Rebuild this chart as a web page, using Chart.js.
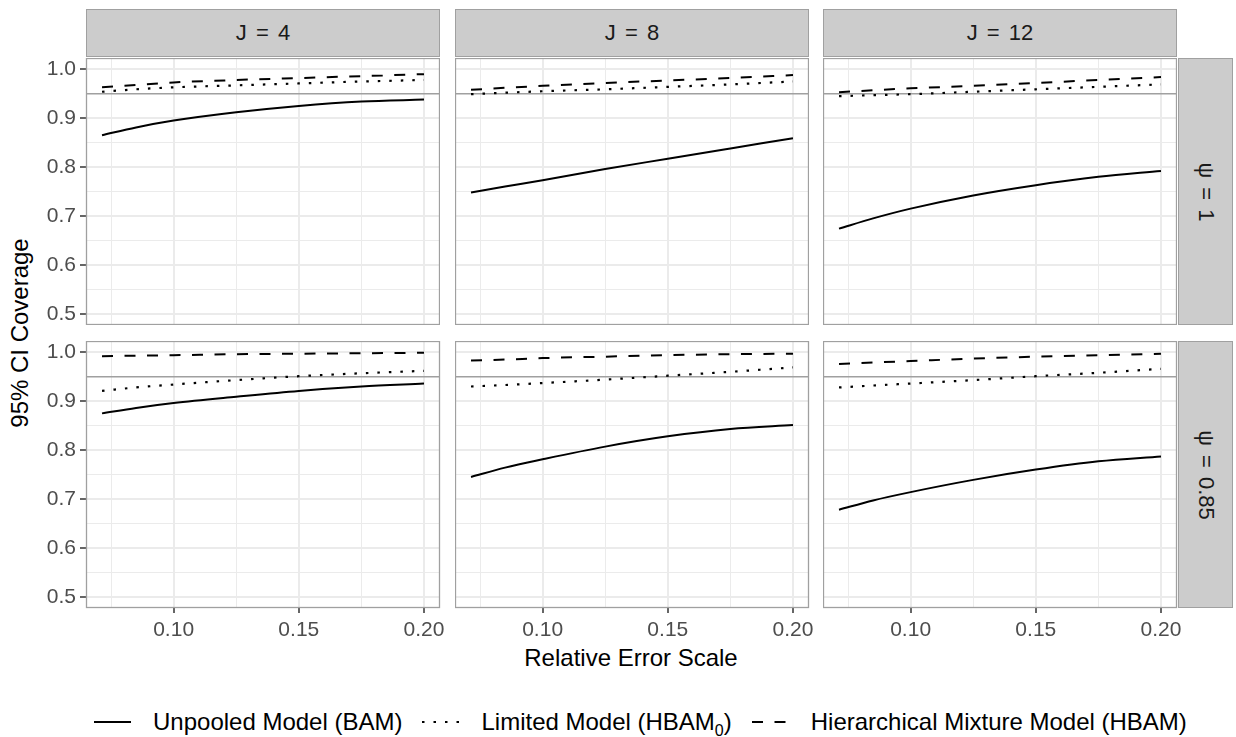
<!DOCTYPE html>
<html>
<head>
<meta charset="utf-8">
<script src="https://cdn.jsdelivr.net/npm/chart.js@4.4.1/dist/chart.umd.min.js"></script>
<style>
    body { margin: 0; background: #fff; font-family: "Liberation Sans", Arial, sans-serif; }
    #fig { position: relative; width: 1236px; height: 737px; overflow: hidden; }
    #fig canvas { position: absolute; }
    .strip {
        position: absolute; box-sizing: border-box;
        background: #cccccc; border: 1.3px solid #a0a0a0;
        color: #1a1a1a; font-size: 22px; word-spacing: 3px;
        display: flex; align-items: center; justify-content: center;
    }
    .strip.side span { transform: rotate(90deg); white-space: nowrap; }
    .title { position: absolute; color: #000; font-size: 24px; white-space: nowrap; }
    #legend {
        position: absolute; left: 94px; top: 708px; height: 28px;
        display: flex; align-items: center; white-space: nowrap;
        font-size: 24px; line-height: 28px; color: #000;
    }
    #legend svg { margin: 0 22px 0 20px; }
    #legend svg.first { margin-left: 0; }
    sub { font-size: 16px; line-height: 0; }
</style>
</head>
<body>
<div id="fig">
    <div class="title" style="left:20px; top:333px; transform: translate(-50%, -50%) rotate(-90deg);">95% CI Coverage</div>
    <div class="title" style="left:631px; top:658px; transform: translate(-50%, -50%);">Relative Error Scale</div>
    <div id="legend">
        <svg class="first" width="37" height="10"><line x1="0" y1="5" x2="37" y2="5" stroke="#000" stroke-width="2"/></svg><span>Unpooled Model (BAM)</span>
        <svg width="37" height="10"><line x1="0" y1="5" x2="37" y2="5" stroke="#000" stroke-width="2.2" stroke-dasharray="2.5 9"/></svg><span>Limited Model (HBAM<sub>0</sub>)</span>
        <svg width="37" height="10"><line x1="0" y1="5" x2="37" y2="5" stroke="#000" stroke-width="2" stroke-dasharray="11 11.5"/></svg><span>Hierarchical Mixture Model (HBAM)</span>
    </div>
</div>
<script>
const xVals = [0.0714, 0.085, 0.10, 0.125, 0.15, 0.175, 0.20];
const xTicks = [0.075, 0.10, 0.125, 0.15, 0.175, 0.20];
const yTicks = [0.5, 0.55, 0.6, 0.65, 0.7, 0.75, 0.8, 0.85, 0.9, 0.95, 1.0];
const jLabels = ['J = 4', 'J = 8', 'J = 12'];
const psiLabels = ['ψ = 1', 'ψ = 0.85'];
const seriesNames = ['Unpooled Model (BAM)', 'Limited Model (HBAM0)', 'Hierarchical Mixture Model (HBAM)'];
const target = 0.95;

// psi = 1, one row per J (4, 8, 12)
const bamPsi1 = [
    [0.865, 0.881, 0.895, 0.912, 0.925, 0.934, 0.938],
    [0.748, 0.760, 0.773, 0.796, 0.817, 0.838, 0.859],
    [0.674, 0.695, 0.715, 0.742, 0.763, 0.780, 0.792]
];
const hbam0Psi1 = [
    [0.954, 0.959, 0.963, 0.967, 0.971, 0.975, 0.978],
    [0.949, 0.952, 0.955, 0.959, 0.964, 0.969, 0.975],
    [0.945, 0.947, 0.949, 0.954, 0.959, 0.964, 0.969]
];
const hbamPsi1 = [
    [0.963, 0.968, 0.973, 0.978, 0.982, 0.986, 0.990],
    [0.958, 0.962, 0.966, 0.972, 0.977, 0.982, 0.988],
    [0.953, 0.957, 0.961, 0.966, 0.972, 0.978, 0.984]
];

// psi = 0.85
const bamPsi085 = [
    [0.875, 0.886, 0.896, 0.909, 0.921, 0.930, 0.936],
    [0.745, 0.764, 0.781, 0.807, 0.828, 0.843, 0.851],
    [0.678, 0.697, 0.714, 0.739, 0.760, 0.777, 0.787]
];
const hbam0Psi085 = [
    [0.921, 0.928, 0.934, 0.943, 0.951, 0.957, 0.962],
    [0.930, 0.933, 0.937, 0.944, 0.952, 0.960, 0.969],
    [0.928, 0.932, 0.936, 0.943, 0.951, 0.958, 0.966]
];
const hbamPsi085 = [
    [0.992, 0.993, 0.994, 0.996, 0.997, 0.998, 0.999],
    [0.983, 0.985, 0.988, 0.991, 0.994, 0.996, 0.997],
    [0.976, 0.979, 0.982, 0.987, 0.991, 0.994, 0.997]
];

const rows = [
    [bamPsi1, hbam0Psi1, hbamPsi1],
    [bamPsi085, hbam0Psi085, hbamPsi085]
];

// layout of the facets
const colLeft = [86, 455, 823];
const rowTop = [58, 341];
const panelW = 354;
const panelH = 267;
const yAxisW = 86;
const xAxisH = 42;
const rightRoom = 26;   // room for the last x label
const xMin = 0.065, xMax = 0.2064;
const yMin = 0.477, yMax = 1.023;

const fig = document.getElementById('fig');

// border around each panel
const panelBorder = {
    id: 'panelBorder',
    afterDraw(chart) {
        const a = chart.chartArea;
        const ctx = chart.ctx;
        ctx.save();
        ctx.strokeStyle = '#a0a0a0';
        ctx.lineWidth = 1.3;
        ctx.strokeRect(a.left + 0.5, a.top + 0.5, a.right - a.left - 1, a.bottom - a.top - 1);
        ctx.restore();
    }
};

function isMajor(v, step) {
    return Math.abs(v / step - Math.round(v / step)) < 1e-6;
}

// fixed axis size, and no extra room for labels hanging over the ends
function fixSize(s, size) {
    if (s.isHorizontal()) s.height = size; else s.width = size;
    s.paddingTop = 0;
    s.paddingBottom = 0;
    s.paddingLeft = 0;
    s.paddingRight = 0;
}

function makePanel(r, c) {
    const showY = c === 0;
    const showX = r === 1;
    const padR = showX ? rightRoom : 0;
    const left = colLeft[c] - (showY ? yAxisW : 0);
    const w = panelW + (showY ? yAxisW : 0) + padR;
    const h = panelH + (showX ? xAxisH : 0);

    const canvas = document.createElement('canvas');
    canvas.width = w;
    canvas.height = h;
    canvas.style.left = left + 'px';
    canvas.style.top = rowTop[r] + 'px';
    canvas.style.width = w + 'px';
    canvas.style.height = h + 'px';
    fig.appendChild(canvas);

    const series = rows[r];
    const styles = [
        { dash: [], width: 2 },
        { dash: [2.5, 9], width: 2.2 },
        { dash: [11, 11.5], width: 2 }
    ];
    const datasets = series.map((s, k) => ({
        label: seriesNames[k],
        data: xVals.map((x, i) => ({ x: x, y: s[c][i] })),
        borderColor: '#000',
        borderWidth: styles[k].width,
        borderDash: styles[k].dash,
        borderCapStyle: 'butt',
        pointRadius: 0,
        cubicInterpolationMode: 'monotone'
    }));
    // the 0.95 reference line, drawn underneath
    datasets.push({
        label: 'target',
        data: [{ x: xMin, y: target }, { x: xMax, y: target }],
        borderColor: '#a0a0a0',
        borderWidth: 1.6,
        pointRadius: 0
    });

    new Chart(canvas, {
        type: 'line',
        data: { datasets: datasets },
        options: {
            responsive: false,
            animation: false,
            devicePixelRatio: 1,
            layout: { padding: { left: 0, top: 0, bottom: 0, right: padR }, autoPadding: false },
            plugins: { legend: { display: false }, tooltip: { enabled: false } },
            scales: {
                x: {
                    type: 'linear',
                    min: xMin,
                    max: xMax,
                    afterBuildTicks: s => { s.ticks = xTicks.map(v => ({ value: v })); },
                    afterFit: s => fixSize(s, showX ? xAxisH : 0),
                    border: { display: false },
                    grid: {
                        color: '#ebebeb',
                        lineWidth: ctx => isMajor(ctx.tick.value, 0.05) ? 2 : 1,
                        drawTicks: showX,
                        tickLength: 5,
                        tickWidth: 1.5,
                        tickColor: ctx => isMajor(ctx.tick.value, 0.05) ? '#333333' : 'rgba(0,0,0,0)'
                    },
                    ticks: {
                        display: showX,
                        autoSkip: false,
                        maxRotation: 0,
                        padding: 5,
                        color: '#4d4d4d',
                        font: { family: 'Liberation Sans', size: 21 },
                        callback: v => isMajor(v, 0.05) ? v.toFixed(2) : ''
                    }
                },
                y: {
                    type: 'linear',
                    min: yMin,
                    max: yMax,
                    afterBuildTicks: s => { s.ticks = yTicks.map(v => ({ value: v })); },
                    afterFit: s => fixSize(s, showY ? yAxisW : 0),
                    border: { display: false },
                    grid: {
                        color: '#ebebeb',
                        lineWidth: ctx => isMajor(ctx.tick.value, 0.1) ? 2 : 1,
                        drawTicks: showY,
                        tickLength: 6,
                        tickWidth: 1.5,
                        tickColor: ctx => isMajor(ctx.tick.value, 0.1) ? '#333333' : 'rgba(0,0,0,0)'
                    },
                    ticks: {
                        display: showY,
                        autoSkip: false,
                        padding: 4,
                        color: '#4d4d4d',
                        font: { family: 'Liberation Sans', size: 21 },
                        callback: v => isMajor(v, 0.1) ? v.toFixed(1) : ''
                    }
                }
            }
        },
        plugins: [panelBorder]
    });
}

function addStrip(text, left, top, w, h, side) {
    const d = document.createElement('div');
    d.className = 'strip' + (side ? ' side' : '');
    d.style.left = left + 'px';
    d.style.top = top + 'px';
    d.style.width = w + 'px';
    d.style.height = h + 'px';
    const s = document.createElement('span');
    s.textContent = text;
    d.appendChild(s);
    fig.appendChild(d);
}

for (let r = 0; r < 2; r++) {
    for (let c = 0; c < 3; c++) {
        makePanel(r, c);
    }
}
jLabels.forEach((t, c) => addStrip(t, colLeft[c], 9, panelW, 48, false));
psiLabels.forEach((t, r) => addStrip(t, colLeft[2] + panelW + 1, rowTop[r], 55, panelH, true));
</script>
</body>
</html>
